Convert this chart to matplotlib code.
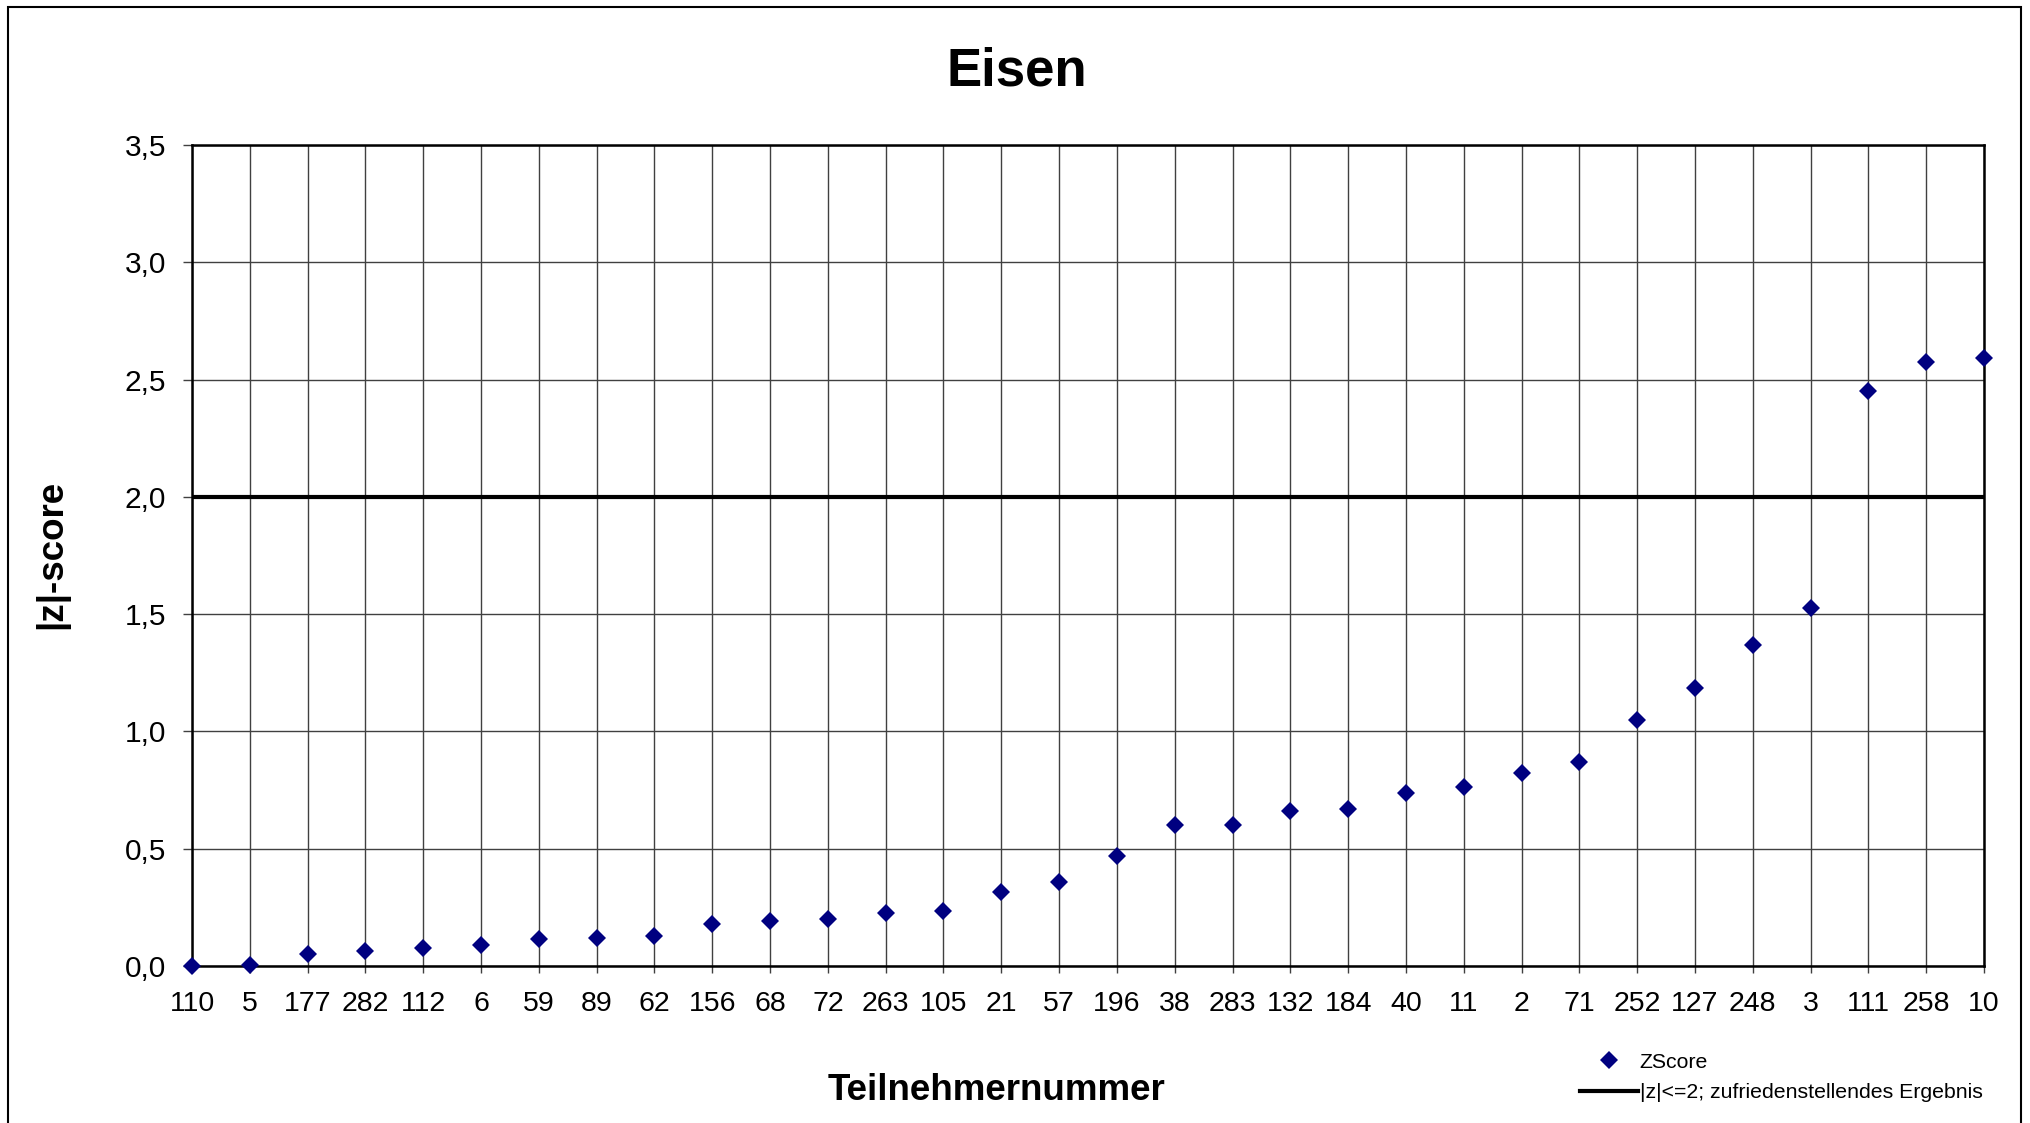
import matplotlib
matplotlib.use('Agg')
import matplotlib.pyplot as plt
from matplotlib.patches import Rectangle
from matplotlib.lines import Line2D

plt.rcParams['font.family'] = ['Liberation Sans', 'DejaVu Sans']

# Teilnehmer und |z|-score Werte
teilnehmer = ['110', '5', '177', '282', '112', '6', '59', '89', '62', '156',
              '68', '72', '263', '105', '21', '57', '196', '38', '283', '132',
              '184', '40', '11', '2', '71', '252', '127', '248', '3', '111',
              '258', '10']
zscore = [0.0, 0.005, 0.05, 0.066, 0.077, 0.088, 0.116, 0.12, 0.13, 0.18,
          0.19, 0.20, 0.225, 0.233, 0.315, 0.358, 0.47, 0.602, 0.602, 0.662,
          0.671, 0.737, 0.762, 0.821, 0.87, 1.05, 1.185, 1.368, 1.528, 2.45,
          2.575, 2.593]
grenze = 2.0
y_ticks = [0.0, 0.5, 1.0, 1.5, 2.0, 2.5, 3.0, 3.5]
y_ticklabels = ['0,0', '0,5', '1,0', '1,5', '2,0', '2,5', '3,0', '3,5']

fig = plt.figure(figsize=(20.31, 11.23), dpi=100)
ax = fig.add_axes([192 / 2031, 1 - 966 / 1123, (1984 - 192) / 2031, (966 - 145) / 1123])

x = list(range(len(teilnehmer)))
ax.set_xlim(0, len(teilnehmer) - 1)
ax.set_ylim(0, 3.5)

ax.set_xticks(x)
ax.set_xticklabels(teilnehmer)
ax.set_yticks(y_ticks)
ax.set_yticklabels(y_ticklabels)
ax.grid(True, color='#404040', linewidth=1.0)
ax.set_axisbelow(True)

ax.axhline(grenze, color='black', linewidth=3.0, zorder=3)
ax.plot(x, zscore, linestyle='none', marker='D', markersize=9.5, color='#000080',
        markeredgewidth=0, zorder=4, clip_on=False)

for s in ax.spines.values():
    s.set_linewidth(1.8)
    s.set_color('black')

ax.tick_params(axis='x', labelsize=20.5, length=5, width=1, pad=13, color='#404040')
ax.tick_params(axis='y', labelsize=21.5, length=6.5, width=1, pad=12, color='#404040')

fig.text(1017 / 2031, 1 - 71 / 1123, 'Eisen', ha='center', va='center',
         fontsize=38, fontweight='bold')
fig.text(997 / 2031, 1 - 1090 / 1123, 'Teilnehmernummer', ha='center', va='center',
         fontsize=26.5, fontweight='bold')
fig.text(52 / 2031, 1 - 554 / 1123, '|z|-score', ha='center', va='center',
         rotation=90, fontsize=26.5, fontweight='bold')

handles = [Line2D([], [], linestyle='none', marker='D', markersize=9.5,
                  color='#000080', markeredgewidth=0),
           Line2D([], [], color='black', linewidth=3.0)]
labels = ['ZScore', '|z|<=2; zufriedenstellendes Ergebnis']
fig.legend(handles, labels, loc='center left', bbox_to_anchor=(1580 / 2031, 1 - 1077.5 / 1123),
           frameon=False, fontsize=15.3, handlelength=2.75, handletextpad=0.05,
           labelspacing=0.55, borderpad=0, borderaxespad=0)

# Rahmen um das Diagramm
fig.patches.append(Rectangle((8 / 2031, -0.05), (2021 - 8) / 2031, 1.05 - 7 / 1123,
                             transform=fig.transFigure, fill=False,
                             edgecolor='black', linewidth=1.5))

fig.savefig('out.png', dpi=100)
